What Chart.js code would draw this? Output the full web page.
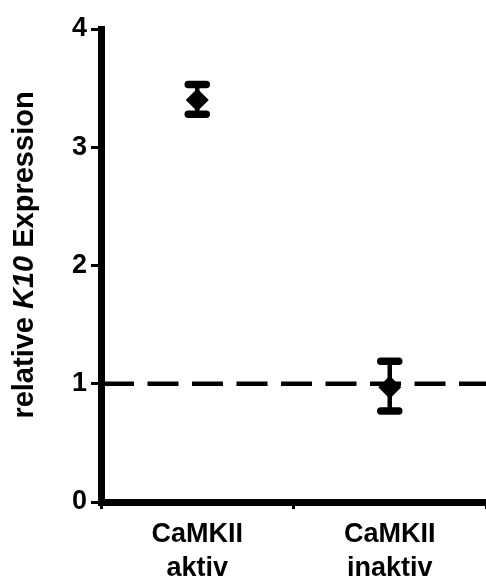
<!DOCTYPE html>
<html>
<head>
<meta charset="utf-8">
<script src="https://cdn.jsdelivr.net/npm/chart.js@4"></script>
<style>
    html, body { margin: 0; padding: 0; background: #fff; overflow: hidden; }
    #wrap { width: 486px; height: 579px; position: relative; }
</style>
</head>
<body>
<div id="wrap"><canvas id="grafica"></canvas></div>
<script>
// Datos
const categorias = [['CaMKII', 'aktiv'], ['CaMKII', 'inaktiv']];
const medias = [3.40, 0.97];
const errorInf = [3.28, 0.77];
const errorSup = [3.53, 1.19];
const lineaReferencia = 1;
const ticksY = [0, 1, 2, 3, 4];

const FUENTE = "'Liberation Sans', Arial, sans-serif";

// Barras de error (tallo + tapas redondeadas)
const barrasError = {
    id: 'barrasError',
    beforeDatasetsDraw(chart) {
        const { ctx, scales: { x, y } } = chart;
        ctx.save();
        ctx.strokeStyle = '#000';
        ctx.lineCap = 'round';
        medias.forEach((m, i) => {
            const px = x.getPixelForValue(i);
            const yAlto = y.getPixelForValue(errorSup[i]);
            const yBajo = y.getPixelForValue(errorInf[i]);
            ctx.lineWidth = 4.5;
            ctx.beginPath();
            ctx.moveTo(px, yAlto);
            ctx.lineTo(px, yBajo);
            ctx.stroke();
            ctx.lineWidth = 7.5;
            [yAlto, yBajo].forEach(py => {
                ctx.beginPath();
                ctx.moveTo(px - 9, py);
                ctx.lineTo(px + 9, py);
                ctx.stroke();
            });
        });
        ctx.restore();
    }
};

// Línea discontinua en y = 1
const lineaDiscontinua = {
    id: 'lineaDiscontinua',
    beforeDatasetsDraw(chart) {
        const { ctx, chartArea, scales: { y } } = chart;
        const py = y.getPixelForValue(lineaReferencia);
        ctx.save();
        ctx.strokeStyle = '#000';
        ctx.lineWidth = 4.5;
        ctx.setLineDash([31, 13.5]);
        ctx.beginPath();
        ctx.moveTo(chartArea.left + 2, py);
        ctx.lineTo(chart.width, py);
        ctx.stroke();
        ctx.restore();
    }
};

// Título del eje Y con "K10" en cursiva
const tituloY = {
    id: 'tituloY',
    afterDraw(chart) {
        const { ctx } = chart;
        const partes = [
            { t: 'relative ', f: `bold 29px ${FUENTE}` },
            { t: 'K10', f: `italic bold 29px ${FUENTE}` },
            { t: ' Expression', f: `bold 29px ${FUENTE}` }
        ];
        let total = 0;
        partes.forEach(p => { ctx.font = p.f; p.w = ctx.measureText(p.t).width; total += p.w; });
        ctx.save();
        ctx.translate(33, 255);
        ctx.rotate(-Math.PI / 2);
        ctx.fillStyle = '#000';
        ctx.textBaseline = 'alphabetic';
        let xx = -total / 2;
        partes.forEach(p => {
            ctx.font = p.f;
            ctx.fillText(p.t, xx, 0);
            xx += p.w;
        });
        ctx.restore();
    }
};

new Chart(document.getElementById('grafica'), {
    type: 'line',
    data: {
        labels: categorias,
        datasets: [{
            data: medias,
            showLine: false,
            pointStyle: 'rectRot',
            pointRadius: 11.5,
            pointHoverRadius: 11.5,
            backgroundColor: '#000',
            borderColor: '#000',
            borderWidth: 0
        }]
    },
    options: {
        responsive: true,
        maintainAspectRatio: false,
        animation: false,
        layout: { autoPadding: false, padding: { top: 29, right: 0, left: 0, bottom: 0 } },
        plugins: { legend: { display: false }, tooltip: { enabled: false } },
        scales: {
            x: {
                type: 'category',
                offset: true,
                afterFit: s => { s.height = 77; s.paddingLeft = 0; s.paddingRight = 0; },
                border: { display: true, color: '#000', width: 7 },
                grid: { offset: true, drawOnChartArea: false, drawTicks: true, tickLength: 7, tickWidth: 3, tickColor: '#000', color: '#000' },
                ticks: {
                    color: '#000',
                    padding: 8,
                    font: { family: FUENTE, size: 27, weight: 'bold', lineHeight: 1.28 },
                    maxRotation: 0
                }
            },
            y: {
                min: 0,
                max: 4,
                afterFit: s => { s.width = 101; s.paddingTop = 0; s.paddingBottom = 0; },
                afterBuildTicks: s => { s.ticks = ticksY.map(v => ({ value: v })); },
                border: { display: true, color: '#000', width: 7 },
                grid: { drawOnChartArea: false, drawTicks: true, tickLength: 10, tickWidth: 3, tickColor: '#000', color: '#000' },
                ticks: {
                    color: '#000',
                    padding: 4,
                    font: { family: FUENTE, size: 27, weight: 'bold' }
                }
            }
        }
    },
    plugins: [lineaDiscontinua, barrasError, tituloY]
});
</script>
</body>
</html>
